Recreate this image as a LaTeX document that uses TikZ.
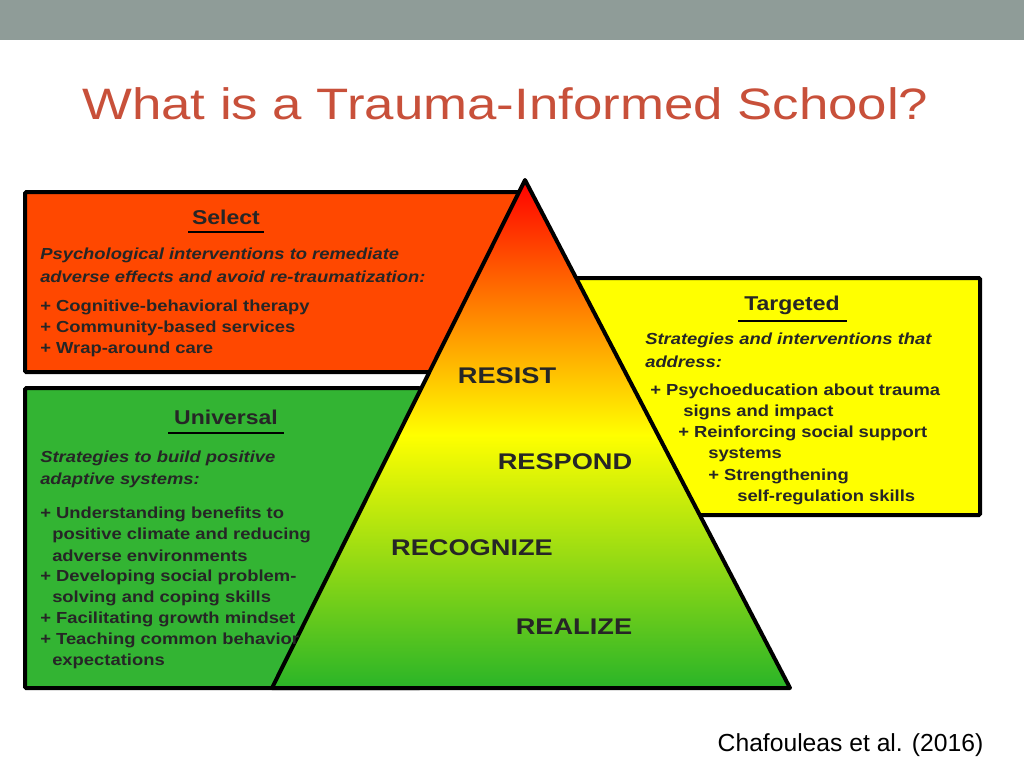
\documentclass[tikz,border=0pt]{standalone}
\usepackage{fontspec}
\setmainfont{Liberation Sans}
\newfontfamily\wide[FakeStretch=1.15]{Liberation Sans}
\newfontfamily\titlef[FakeStretch=1.2]{Liberation Sans}
\begin{document}
\begin{tikzpicture}[x=0.75pt,y=-0.75pt,
  box/.style={draw=black,line width=3pt,rounded corners=1pt},
  tl/.style={font=\wide\fontsize{15}{18}\selectfont\bfseries,text=black!85},
  bd/.style={anchor=west,font=\wide\fontsize{12}{14}\selectfont\bfseries,text=black!85,inner sep=0pt},
  it/.style={bd,font=\wide\fontsize{12}{14}\selectfont\bfseries\itshape},
  lv/.style={font=\titlef\fontsize{17}{20}\selectfont\bfseries,text=black!85}]
\useasboundingbox (0,0) rectangle (1024,768);
\fill[white] (0,0) rectangle (1024,768);
\fill[fill={rgb,255:red,143;green,156;blue,152}] (0,0) rectangle (1024,40);
\node[anchor=west,inner sep=0pt,text={rgb,255:red,200;green,80;blue,58},font=\titlef\fontsize{33}{38}\selectfont] (title) at (82,104) {What is a Trauma-Informed School?};
% boxes
\draw[box,fill={rgb,255:red,255;green,72;blue,0}] (25,192) rectangle (527,372);
\draw[box,fill={rgb,255:red,51;green,180;blue,51}] (25,388) rectangle (420,688);
\draw[box,fill={rgb,255:red,255;green,255;blue,0}] (560,278) rectangle (980,515);
% triangle
\begin{scope}
\clip (525,180) -- (790,688) -- (272,688) -- cycle;
\shade[top color=red,bottom color={rgb,255:red,40;green,180;blue,40},middle color=yellow] (260,180) rectangle (800,690);
\end{scope}
\draw[line width=3pt,line join=round] (525,180) -- (790,688) -- (272,688) -- cycle;
% Select
\node[tl] (s) at (226,217) {Select};
\draw[line width=1pt] (188,232) -- (264,232);
\node[it] at (40,255) {Psychological interventions to remediate};
\node[it] at (40,277) {adverse effects and avoid re-traumatization:};
\node[bd] at (40,307) {+ Cognitive-behavioral therapy};
\node[bd] at (40,328) {+ Community-based services};
\node[bd] at (40,349) {+ Wrap-around care};
% Universal
\node[tl] (u) at (226,417) {Universal};
\draw[line width=1pt] (168,433) -- (284,433);
\node[it] at (40,458) {Strategies to build positive};
\node[it] at (40,480) {adaptive systems:};
\node[bd] at (40,514) {+ Understanding benefits to};
\node[bd] at (52,535) {positive climate and reducing};
\node[bd] at (52,556) {adverse environments};
\node[bd] at (40,577) {+ Developing social problem-};
\node[bd] at (52,598) {solving and coping skills};
\node[bd] at (40,619) {+ Facilitating growth mindset};
\node[bd] at (40,640) {+ Teaching common behavior};
\node[bd] at (52,661) {expectations};
% Targeted
\node[tl] (t) at (792,305) {Targeted};
\draw[line width=1pt] (738,321) -- (847,321);
\node[it] at (645,340) {Strategies and interventions that};
\node[it] at (645,362) {address:};
\node[bd] at (650,391) {+ Psychoeducation about trauma};
\node[bd] at (683,412) {signs and impact};
\node[bd] at (678,433) {+ Reinforcing social support};
\node[bd] at (708,455) {systems};
\node[bd] at (708,476) {+ Strengthening};
\node[bd] at (737,497) {self-regulation skills};
% levels
\node[lv] (l1) at (507,376) {RESIST};
\node[lv] (l2) at (565,462) {RESPOND};
\node[lv] (l3) at (472,548) {RECOGNIZE};
\node[lv] (l4) at (574,627) {REALIZE};
\node[anchor=east,font=\fontsize{18.5}{22}\selectfont] (c) at (988,745) {Chafouleas et al. (2016)};
\end{tikzpicture}
\end{document}
